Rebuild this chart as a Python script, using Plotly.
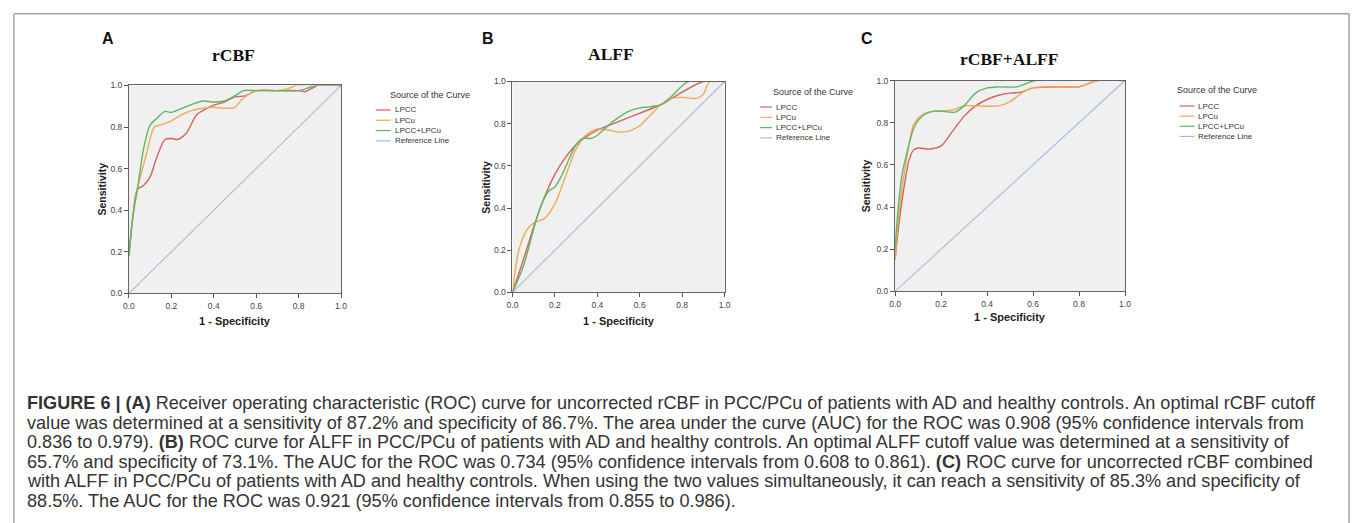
import plotly.graph_objects as go

W, H = 1357, 523

# ---------------- data ----------------
series_names = ["LPCC", "LPCu", "LPCC+LPCu"]
series_colors = ["#d6605f", "#eeaa55", "#5db865"]
ref_color = "#a3bddc"

# Panel A: rCBF
A_lpcc_x = [0, 0.02, 0.04, 0.07, 0.10, 0.13, 0.17, 0.20, 0.23, 0.27, 0.32, 0.35, 0.40, 0.45, 0.50, 0.55, 0.60, 0.70, 0.80, 0.83, 0.87, 0.89, 1.0]
A_lpcc_y = [0.18, 0.38, 0.50, 0.52, 0.56, 0.65, 0.74, 0.745, 0.74, 0.77, 0.86, 0.88, 0.905, 0.92, 0.945, 0.95, 0.975, 0.975, 0.975, 0.97, 0.99, 1.0, 1.0]
A_lpcu_x = [0, 0.02, 0.04, 0.08, 0.12, 0.15, 0.20, 0.25, 0.30, 0.35, 0.40, 0.45, 0.50, 0.53, 0.57, 0.60, 0.70, 0.75, 0.79, 1.0]
A_lpcu_y = [0.18, 0.38, 0.50, 0.66, 0.80, 0.81, 0.83, 0.86, 0.88, 0.89, 0.895, 0.89, 0.895, 0.93, 0.96, 0.975, 0.975, 0.985, 1.0, 1.0]
A_both_x = [0, 0.02, 0.04, 0.07, 0.10, 0.13, 0.17, 0.20, 0.25, 0.30, 0.35, 0.40, 0.45, 0.50, 0.54, 0.60, 0.70, 0.80, 0.85, 0.88, 1.0]
A_both_y = [0.18, 0.38, 0.50, 0.70, 0.81, 0.84, 0.875, 0.87, 0.89, 0.91, 0.925, 0.92, 0.925, 0.95, 0.975, 0.975, 0.975, 0.975, 0.99, 1.0, 1.0]

# Panel B: ALFF
B_lpcc_x = [0, 0.05, 0.10, 0.15, 0.20, 0.25, 0.30, 0.35, 0.40, 0.50, 0.60, 0.70, 0.80, 0.90, 1.0]
B_lpcc_y = [0, 0.15, 0.31, 0.45, 0.56, 0.64, 0.70, 0.74, 0.77, 0.81, 0.85, 0.89, 0.95, 1.0, 1.0]
B_lpcu_x = [0, 0.03, 0.07, 0.10, 0.15, 0.20, 0.25, 0.30, 0.35, 0.40, 0.45, 0.50, 0.55, 0.60, 0.65, 0.70, 0.75, 0.80, 0.87, 0.90, 0.93, 1.0]
B_lpcu_y = [0, 0.20, 0.30, 0.33, 0.35, 0.42, 0.55, 0.68, 0.75, 0.775, 0.77, 0.76, 0.765, 0.79, 0.84, 0.89, 0.92, 0.925, 0.92, 0.94, 1.0, 1.0]
B_both_x = [0, 0.05, 0.10, 0.13, 0.17, 0.20, 0.23, 0.27, 0.30, 0.33, 0.37, 0.40, 0.45, 0.50, 0.55, 0.60, 0.65, 0.70, 0.75, 0.80, 0.83, 1.0]
B_both_y = [0, 0.12, 0.30, 0.40, 0.48, 0.50, 0.55, 0.64, 0.70, 0.73, 0.73, 0.745, 0.79, 0.83, 0.86, 0.875, 0.88, 0.89, 0.93, 0.98, 1.0, 1.0]

# Panel C: rCBF+ALFF
C_lpcc_x = [0, 0.02, 0.04, 0.06, 0.08, 0.10, 0.15, 0.20, 0.25, 0.30, 0.35, 0.40, 0.45, 0.50, 0.55, 0.60, 0.70, 0.80, 0.84, 0.88, 1.0]
C_lpcc_y = [0.15, 0.35, 0.50, 0.62, 0.67, 0.68, 0.675, 0.69, 0.76, 0.83, 0.88, 0.91, 0.93, 0.94, 0.945, 0.965, 0.97, 0.97, 0.985, 1.0, 1.0]
C_lpcu_x = [0, 0.02, 0.05, 0.08, 0.10, 0.13, 0.17, 0.20, 0.25, 0.30, 0.35, 0.45, 0.50, 0.55, 0.60, 0.70, 0.80, 0.84, 0.88, 1.0]
C_lpcu_y = [0.15, 0.40, 0.63, 0.79, 0.82, 0.845, 0.855, 0.855, 0.86, 0.88, 0.88, 0.88, 0.90, 0.94, 0.965, 0.97, 0.97, 0.985, 1.0, 1.0]
C_both_x = [0, 0.01, 0.03, 0.05, 0.08, 0.10, 0.13, 0.17, 0.20, 0.26, 0.30, 0.35, 0.40, 0.45, 0.53, 0.57, 0.61, 1.0]
C_both_y = [0.20, 0.35, 0.55, 0.65, 0.77, 0.81, 0.84, 0.855, 0.855, 0.85, 0.88, 0.94, 0.965, 0.97, 0.97, 0.985, 1.0, 1.0]

ref_x = [0, 1]
ref_y = [0, 1]

tick_vals = [0, 0.2, 0.4, 0.6, 0.8, 1.0]
tick_text = ["0.0", "0.2", "0.4", "0.6", "0.8", "1.0"]

panel_titles = ["rCBF", "ALFF", "rCBF+ALFF"]
panel_letters = ["A", "B", "C"]
legend_title = "Source of the Curve"
legend_labels = ["LPCC", "LPCu", "LPCC+LPCu", "Reference Line"]

caption_lines = [
    "<b>FIGURE 6 | (A)</b> Receiver operating characteristic (ROC) curve for uncorrected rCBF in PCC/PCu of patients with AD and healthy controls. An optimal rCBF cutoff",
    "value was determined at a sensitivity of 87.2% and specificity of 86.7%. The area under the curve (AUC) for the ROC was 0.908 (95% confidence intervals from",
    "0.836 to 0.979). <b>(B)</b> ROC curve for ALFF in PCC/PCu of patients with AD and healthy controls. An optimal ALFF cutoff value was determined at a sensitivity of",
    "65.7% and specificity of 73.1%. The AUC for the ROC was 0.734 (95% confidence intervals from 0.608 to 0.861). <b>(C)</b> ROC curve for uncorrected rCBF combined",
    "with ALFF in PCC/PCu of patients with AD and healthy controls. When using the two values simultaneously, it can reach a sensitivity of 85.3% and specificity of",
    "88.5%. The AUC for the ROC was 0.921 (95% confidence intervals from 0.855 to 0.986).",
]

panels = [
    [(A_lpcc_x, A_lpcc_y), (A_lpcu_x, A_lpcu_y), (A_both_x, A_both_y)],
    [(B_lpcc_x, B_lpcc_y), (B_lpcu_x, B_lpcu_y), (B_both_x, B_both_y)],
    [(C_lpcc_x, C_lpcc_y), (C_lpcu_x, C_lpcu_y), (C_both_x, C_both_y)],
]

# ---------------- layout geometry (pixels) ----------------
def px(x):
    return x / W

def py(y):
    return 1 - y / H

plot_boxes = [  # left, right, top, bottom (pixels)
    (124, 338, 82, 294),
    (511, 725, 78, 293),
    (897, 1129, 77, 292),
]
title_pos = [(230, 51), (610, 50), (1012, 55)]
letter_pos = [(103, 34), (486, 34), (869, 34)]
ylab_x = [97, 484, 868]
xlab_y = [322, 322, 318]
legend_geo = [  # title_left, title_y, line_x0, line_x1, text_left, item ys
    (385, 92, 373, 388, 390, [107, 117.5, 128, 138.5]),
    (772, 89, 761, 773, 775, [104, 114.5, 125, 135.5]),
    (1179, 87, 1184, 1199, 1201, [103, 113.3, 123.6, 134]),
]

fig = go.Figure()
annotations = []
shapes = []

for i, box in enumerate(plot_boxes):
    l, r, t, b = box
    sfx = "" if i == 0 else str(i + 1)
    xa, ya = "x" + sfx, "y" + sfx
    # reference line
    fig.add_trace(go.Scatter(x=ref_x, y=ref_y, mode="lines", xaxis=xa, yaxis=ya,
                             line=dict(color=ref_color, width=1.1), showlegend=False, hoverinfo="skip"))
    for j, (xs, ys) in enumerate(panels[i]):
        fig.add_trace(go.Scatter(x=xs, y=ys, mode="lines", xaxis=xa, yaxis=ya, name=series_names[j],
                                 line=dict(color=series_colors[j], width=1.4, shape="spline", smoothing=0.8),
                                 showlegend=False))
    axis_common = dict(range=[0, 1], tickvals=tick_vals, ticktext=tick_text, ticks="outside", ticklen=4,
                       tickcolor="#555", tickwidth=1, showline=True, linecolor="#666", linewidth=1,
                       mirror=True, showgrid=False, zeroline=False,
                       tickfont=dict(family="Liberation Sans, Arial", size=8.5, color="#444"))
    fig.layout["xaxis" + sfx] = dict(domain=[px(l), px(r)], anchor=ya, **axis_common)
    fig.layout["yaxis" + sfx] = dict(domain=[py(b), py(t)], anchor=xa, **axis_common)

    cx = (l + r) / 2
    annotations.append(dict(text="<b>%s</b>" % panel_titles[i], x=px(title_pos[i][0]), y=py(title_pos[i][1]),
                            xref="paper", yref="paper", showarrow=False, xanchor="center", yanchor="middle",
                            font=dict(family="Liberation Serif, Times New Roman", size=17.5, color="#111")))
    annotations.append(dict(text="<b>%s</b>" % panel_letters[i], x=px(letter_pos[i][0]), y=py(letter_pos[i][1]),
                            xref="paper", yref="paper", showarrow=False, xanchor="center", yanchor="middle",
                            font=dict(family="Liberation Sans, Arial", size=16, color="#111")))
    annotations.append(dict(text="<b>Sensitivity</b>", x=px(ylab_x[i]), y=py((t + b) / 2),
                            xref="paper", yref="paper", showarrow=False, textangle=-90,
                            xanchor="center", yanchor="middle",
                            font=dict(family="Liberation Sans, Arial", size=10.5, color="#222")))
    annotations.append(dict(text="<b>1 - Specificity</b>", x=px(cx), y=py(xlab_y[i]),
                            xref="paper", yref="paper", showarrow=False, xanchor="center", yanchor="middle",
                            font=dict(family="Liberation Sans, Arial", size=11, color="#222")))

    # legend (drawn manually to mimic the SPSS layout)
    tl, ty, lx0, lx1, txl, ys = legend_geo[i]
    annotations.append(dict(text=legend_title, x=px(tl), y=py(ty), xref="paper", yref="paper",
                            showarrow=False, xanchor="left", yanchor="middle",
                            font=dict(family="Liberation Sans, Arial", size=9, color="#333")))
    leg_colors = series_colors + [ref_color]
    for k, lab in enumerate(legend_labels):
        shapes.append(dict(type="line", xref="paper", yref="paper", x0=px(lx0), x1=px(lx1),
                           y0=py(ys[k]), y1=py(ys[k]), line=dict(color=leg_colors[k], width=1.2)))
        annotations.append(dict(text=lab, x=px(txl), y=py(ys[k]), xref="paper", yref="paper",
                                showarrow=False, xanchor="left", yanchor="middle",
                                font=dict(family="Liberation Sans, Arial", size=8, color="#333")))

# caption
cap_y0, cap_dy = 406, 19.9
for k, line in enumerate(caption_lines):
    annotations.append(dict(text=line, x=px(19), y=py(cap_y0 + k * cap_dy), xref="paper", yref="paper",
                            showarrow=False, xanchor="left", yanchor="middle",
                            font=dict(family="Liberation Sans, Arial", size=18.1, color="#333")))

# outer frame
shapes.append(dict(type="rect", xref="paper", yref="paper", x0=px(8), x1=px(1355), y0=py(540), y1=py(9),
                   line=dict(color="#777", width=1), fillcolor="rgba(0,0,0,0)", layer="below"))

fig.update_layout(width=W, height=H, margin=dict(l=0, r=0, t=0, b=0), paper_bgcolor="white",
                  plot_bgcolor="#f0f0f0", showlegend=False, annotations=annotations, shapes=shapes)

fig.write_html("out.html")
